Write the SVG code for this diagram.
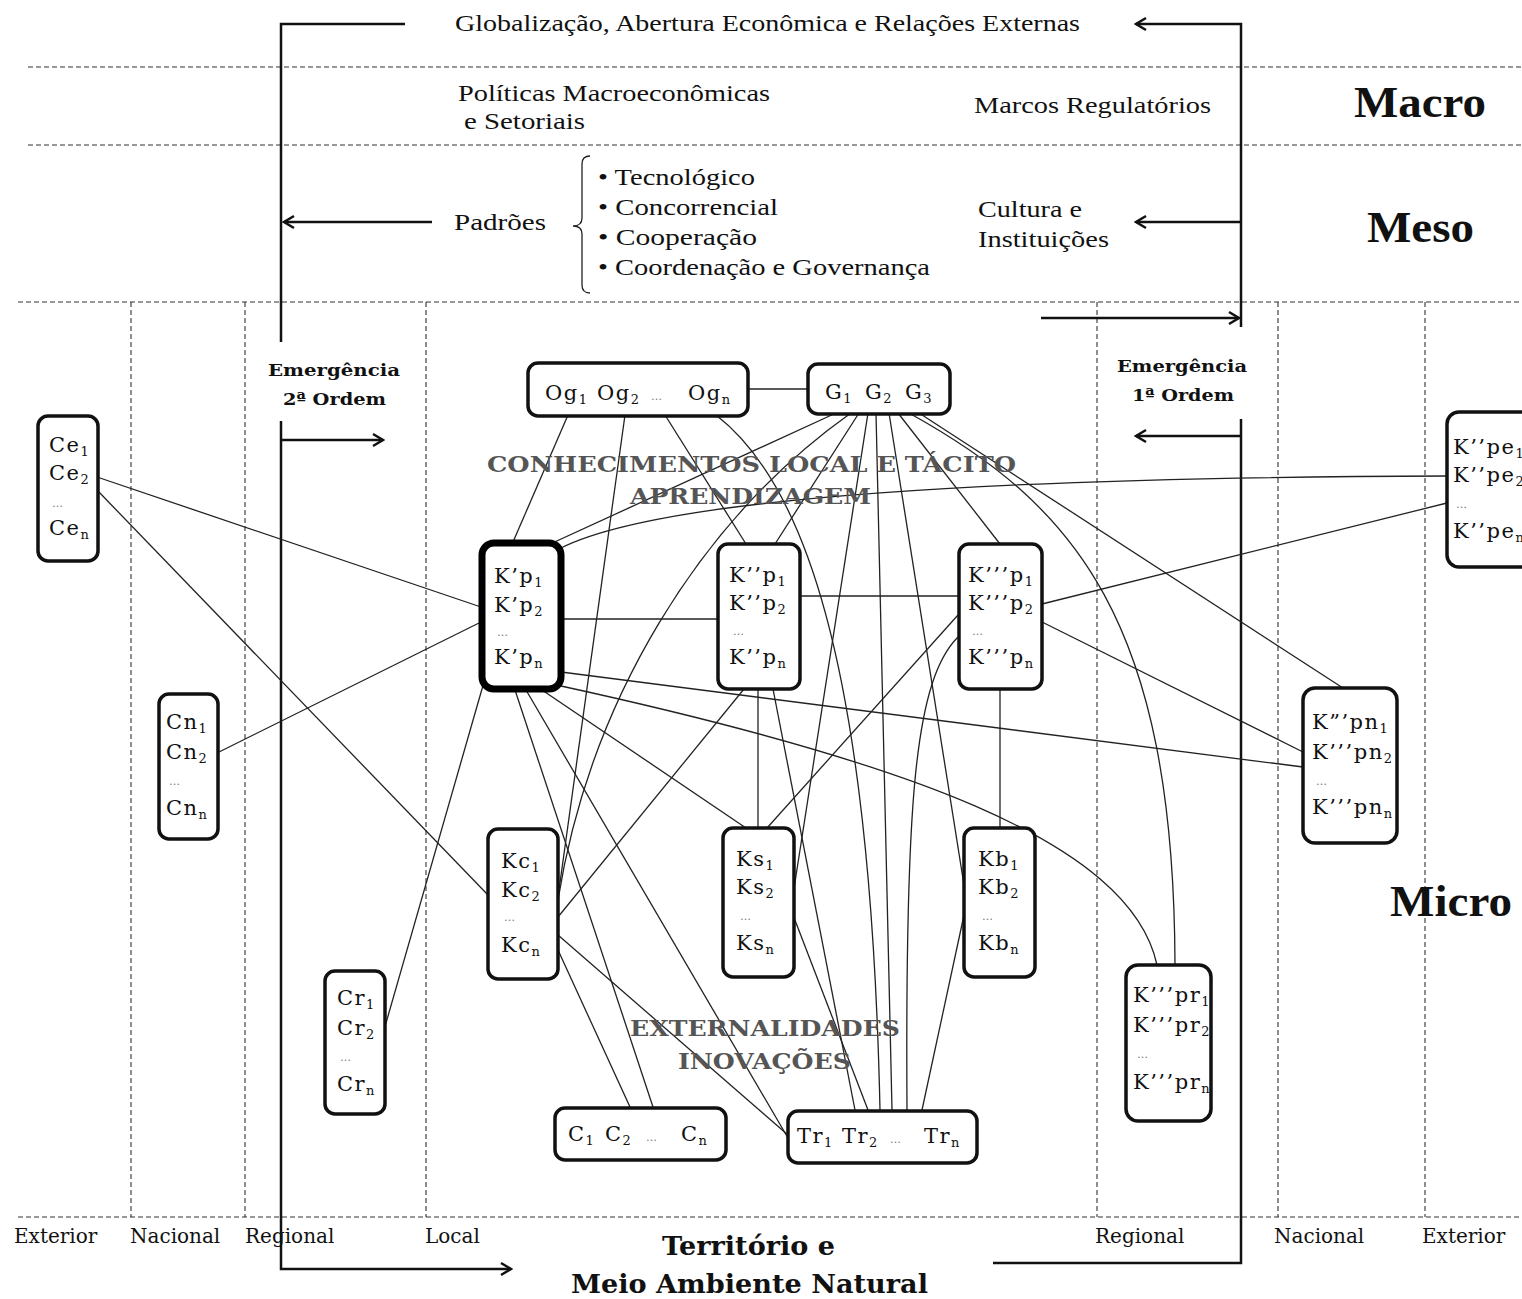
<svg xmlns="http://www.w3.org/2000/svg" width="1522" height="1299" viewBox="0 0 1522 1299">
<style>
.bg{fill:#fff}
.dash{stroke:#333;stroke-width:1.1;stroke-dasharray:5 3;fill:none}
.thick{stroke:#111;stroke-width:2.5;fill:none}
.conn path{stroke:#222;stroke-width:1.3;fill:none}
.box{fill:#fff;stroke:#111;stroke-width:3.5}
.boxk{fill:#fff;stroke:#000;stroke-width:7}
.nt{font-family:"DejaVu Serif",serif;font-size:21px;fill:#111;letter-spacing:1.5px}
.sub{font-size:13px;letter-spacing:0}
.dots{font-family:"DejaVu Serif",serif;font-size:11px;fill:#777}
.top{font-family:"Liberation Serif",serif;font-size:23px;fill:#111}
.lvl{font-family:"Liberation Serif",serif;font-size:44px;font-weight:bold;fill:#111}
.emg{font-family:"DejaVu Serif",serif;font-size:17px;font-weight:bold;fill:#111}
.sec{font-family:"DejaVu Serif",serif;font-size:22px;font-weight:bold;fill:#555}
.ter{font-family:"DejaVu Serif",serif;font-size:26px;font-weight:bold;fill:#111}
.bl{font-family:"DejaVu Serif",serif;font-size:20px;fill:#111}
</style>
<defs>
<marker id="ah" markerWidth="14" markerHeight="16" refX="12" refY="8" orient="auto" markerUnits="userSpaceOnUse"><path d="M2,2 L12,8 L2,14" fill="none" stroke="#111" stroke-width="2.5"/></marker>
</defs>
<rect class="bg" x="0" y="0" width="1522" height="1299"/>

<g id="grid">
<path class="dash" d="M28,67 H1522 M28,145 H1522 M18,302 H1522 M18,1217 H1522"/>
<path class="dash" d="M131,302 V1217 M245,302 V1217 M426,302 V1217 M1097,302 V1217 M1278,302 V1217 M1425,302 V1217"/>
</g>

<g id="frame">
<path class="thick" d="M405,24 H281 V342"/>
<path class="thick" d="M432,222 H284" marker-end="url(#ah)"/>
<path class="thick" d="M281,421 V1269 H511" marker-end="url(#ah)"/>
<path class="thick" d="M281,440 H383" marker-end="url(#ah)"/>
<path class="thick" d="M1241,327 V24 H1136" marker-end="url(#ah)"/>
<path class="thick" d="M1241,222 H1136" marker-end="url(#ah)"/>
<path class="thick" d="M1041,318 H1239" marker-end="url(#ah)"/>
<path class="thick" d="M1241,419 V1263 H993"/>
<path class="thick" d="M1241,436 H1136" marker-end="url(#ah)"/>
<path d="M590,156 Q582,156 582,164 L582,218 Q582,226 573,226 Q582,226 582,234 L582,285 Q582,293 590,293" fill="none" stroke="#222" stroke-width="1.3"/>
</g>

<g id="connectors" class="conn">
<path d="M748,389 H807"/>
<path d="M561,619 H718"/>
<path d="M800,596 H958"/>
<path d="M758,689 V828"/>
<path d="M1000,689 V828"/>
<path d="M97,477 L481,607"/>
<path d="M97,490 L488,895"/>
<path d="M217,753 L481,622"/>
<path d="M384,1030 L484,682"/>
<path d="M1447,476 Q700,478 561,548"/>
<path d="M1447,503 L1042,604"/>
<path d="M568,415 L513,542"/>
<path d="M625,415 L558,897"/>
<path d="M665,415 L746,544"/>
<path d="M716,415 C800,480 870,650 880,1110"/>
<path d="M836,413 L548,545"/>
<path d="M851,413 C700,520 590,700 558,900"/>
<path d="M859,413 L775,544"/>
<path d="M868,413 L793,895"/>
<path d="M793,915 L868,1110"/>
<path d="M876,413 L892,1110"/>
<path d="M889,413 L964,885"/>
<path d="M964,915 L922,1110"/>
<path d="M898,413 L1000,544"/>
<path d="M909,413 C1075,505 1174,620 1175,965"/>
<path d="M919,413 L1343,688"/>
<path d="M958,615 L767,828"/>
<path d="M958,637 C915,680 905,800 907,1110"/>
<path d="M1042,622 L1303,752"/>
<path d="M561,672 L1303,767"/>
<path d="M561,686 C900,760 1130,840 1157,965"/>
<path d="M542,690 L746,828"/>
<path d="M526,690 L788,1138"/>
<path d="M515,690 L653,1107"/>
<path d="M558,917 L744,689"/>
<path d="M558,935 L788,1135"/>
<path d="M558,950 L630,1107"/>
<path d="M773,689 L855,1110"/>
</g>

<g id="node-og">
<rect class="box" x="528" y="363" width="220" height="53" rx="10"/>
<text class="nt" x="545" y="400">Og<tspan class="sub" dy="4">1</tspan></text>
<text class="nt" x="597" y="400">Og<tspan class="sub" dy="4">2</tspan></text>
<text class="dots" x="651" y="400">…</text>
<text class="nt" x="688" y="400">Og<tspan class="sub" dy="4">n</tspan></text>
</g>
<g id="node-g">
<rect class="box" x="808" y="364" width="142" height="50" rx="10"/>
<text class="nt" x="825" y="399">G<tspan class="sub" dy="4">1</tspan></text>
<text class="nt" x="865" y="399">G<tspan class="sub" dy="4">2</tspan></text>
<text class="nt" x="905" y="399">G<tspan class="sub" dy="4">3</tspan></text>
</g>
<g id="node-ce">
<rect class="box" x="38" y="416" width="60" height="145" rx="10"/>
<text class="nt" x="49" y="452">Ce<tspan class="sub" dy="4">1</tspan></text>
<text class="nt" x="49" y="480">Ce<tspan class="sub" dy="4">2</tspan></text>
<text class="dots" x="52" y="507">…</text>
<text class="nt" x="49" y="535">Ce<tspan class="sub" dy="4">n</tspan></text>
</g>
<g id="node-cn">
<rect class="box" x="159" y="694" width="59" height="145" rx="10"/>
<text class="nt" x="166" y="729">Cn<tspan class="sub" dy="4">1</tspan></text>
<text class="nt" x="166" y="759">Cn<tspan class="sub" dy="4">2</tspan></text>
<text class="dots" x="169" y="785">…</text>
<text class="nt" x="166" y="815">Cn<tspan class="sub" dy="4">n</tspan></text>
</g>
<g id="node-cr">
<rect class="box" x="325" y="971" width="60" height="143" rx="10"/>
<text class="nt" x="337" y="1005">Cr<tspan class="sub" dy="4">1</tspan></text>
<text class="nt" x="337" y="1035">Cr<tspan class="sub" dy="4">2</tspan></text>
<text class="dots" x="340" y="1061">…</text>
<text class="nt" x="337" y="1091">Cr<tspan class="sub" dy="4">n</tspan></text>
</g>
<g id="node-kp1">
<rect class="boxk" x="482" y="543" width="79" height="146" rx="12"/>
<text class="nt" x="494" y="583">K’p<tspan class="sub" dy="4">1</tspan></text>
<text class="nt" x="494" y="612">K’p<tspan class="sub" dy="4">2</tspan></text>
<text class="dots" x="497" y="636">…</text>
<text class="nt" x="494" y="664">K’p<tspan class="sub" dy="4">n</tspan></text>
</g>
<g id="node-kp2">
<rect class="box" x="718" y="544" width="82" height="145" rx="10"/>
<text class="nt" x="729" y="582">K’’p<tspan class="sub" dy="4">1</tspan></text>
<text class="nt" x="729" y="610">K’’p<tspan class="sub" dy="4">2</tspan></text>
<text class="dots" x="733" y="635">…</text>
<text class="nt" x="729" y="664">K’’p<tspan class="sub" dy="4">n</tspan></text>
</g>
<g id="node-kp3">
<rect class="box" x="959" y="544" width="83" height="145" rx="10"/>
<text class="nt" x="968" y="582">K’’’p<tspan class="sub" dy="4">1</tspan></text>
<text class="nt" x="968" y="610">K’’’p<tspan class="sub" dy="4">2</tspan></text>
<text class="dots" x="972" y="635">…</text>
<text class="nt" x="968" y="664">K’’’p<tspan class="sub" dy="4">n</tspan></text>
</g>
<g id="node-kpe">
<rect class="box" x="1447" y="412" width="95" height="155" rx="12"/>
<text class="nt" x="1453" y="454">K’’pe<tspan class="sub" dy="4">1</tspan></text>
<text class="nt" x="1453" y="482">K’’pe<tspan class="sub" dy="4">2</tspan></text>
<text class="dots" x="1456" y="508">…</text>
<text class="nt" x="1453" y="538">K’’pe<tspan class="sub" dy="4">n</tspan></text>
</g>
<g id="node-kpn">
<rect class="box" x="1303" y="688" width="94" height="155" rx="12"/>
<text class="nt" x="1312" y="729">K”’pn<tspan class="sub" dy="4">1</tspan></text>
<text class="nt" x="1312" y="759">K’’’pn<tspan class="sub" dy="4">2</tspan></text>
<text class="dots" x="1316" y="785">…</text>
<text class="nt" x="1312" y="814">K’’’pn<tspan class="sub" dy="4">n</tspan></text>
</g>
<g id="node-kc">
<rect class="box" x="488" y="829" width="70" height="150" rx="10"/>
<text class="nt" x="501" y="868">Kc<tspan class="sub" dy="4">1</tspan></text>
<text class="nt" x="501" y="897">Kc<tspan class="sub" dy="4">2</tspan></text>
<text class="dots" x="504" y="921">…</text>
<text class="nt" x="501" y="952">Kc<tspan class="sub" dy="4">n</tspan></text>
</g>
<g id="node-ks">
<rect class="box" x="723" y="828" width="71" height="149" rx="10"/>
<text class="nt" x="736" y="866">Ks<tspan class="sub" dy="4">1</tspan></text>
<text class="nt" x="736" y="894">Ks<tspan class="sub" dy="4">2</tspan></text>
<text class="dots" x="740" y="920">…</text>
<text class="nt" x="736" y="950">Ks<tspan class="sub" dy="4">n</tspan></text>
</g>
<g id="node-kb">
<rect class="box" x="964" y="828" width="71" height="149" rx="10"/>
<text class="nt" x="978" y="866">Kb<tspan class="sub" dy="4">1</tspan></text>
<text class="nt" x="978" y="894">Kb<tspan class="sub" dy="4">2</tspan></text>
<text class="dots" x="982" y="920">…</text>
<text class="nt" x="978" y="950">Kb<tspan class="sub" dy="4">n</tspan></text>
</g>
<g id="node-kpr">
<rect class="box" x="1126" y="965" width="85" height="156" rx="12"/>
<text class="nt" x="1133" y="1002">K’’’pr<tspan class="sub" dy="4">1</tspan></text>
<text class="nt" x="1133" y="1032">K’’’pr<tspan class="sub" dy="4">2</tspan></text>
<text class="dots" x="1137" y="1058">…</text>
<text class="nt" x="1133" y="1089">K’’’pr<tspan class="sub" dy="4">n</tspan></text>
</g>
<g id="node-c">
<rect class="box" x="555" y="1108" width="171" height="52" rx="10"/>
<text class="nt" x="568" y="1141">C<tspan class="sub" dy="4">1</tspan></text>
<text class="nt" x="605" y="1141">C<tspan class="sub" dy="4">2</tspan></text>
<text class="dots" x="646" y="1141">…</text>
<text class="nt" x="681" y="1141">C<tspan class="sub" dy="4">n</tspan></text>
</g>
<g id="node-tr">
<rect class="box" x="788" y="1111" width="189" height="52" rx="10"/>
<text class="nt" x="797" y="1143">Tr<tspan class="sub" dy="4">1</tspan></text>
<text class="nt" x="842" y="1143">Tr<tspan class="sub" dy="4">2</tspan></text>
<text class="dots" x="890" y="1143">…</text>
<text class="nt" x="924" y="1143">Tr<tspan class="sub" dy="4">n</tspan></text>
</g>

<g id="labels">
<text class="top" x="455" y="31" textLength="625" lengthAdjust="spacingAndGlyphs">Globalização, Abertura Econômica e Relações Externas</text>
<text class="top" x="458" y="101" textLength="312" lengthAdjust="spacingAndGlyphs">Políticas Macroeconômicas</text>
<text class="top" x="464" y="129" textLength="121" lengthAdjust="spacingAndGlyphs">e Setoriais</text>
<text class="top" x="974" y="113" textLength="237" lengthAdjust="spacingAndGlyphs">Marcos Regulatórios</text>
<text class="top" x="454" y="230" textLength="92" lengthAdjust="spacingAndGlyphs">Padrões</text>
<text class="top" x="598" y="185" textLength="157" lengthAdjust="spacingAndGlyphs">• Tecnológico</text>
<text class="top" x="598" y="215" textLength="180" lengthAdjust="spacingAndGlyphs">• Concorrencial</text>
<text class="top" x="598" y="245" textLength="159" lengthAdjust="spacingAndGlyphs">• Cooperação</text>
<text class="top" x="598" y="275" textLength="332" lengthAdjust="spacingAndGlyphs">• Coordenação e Governança</text>
<text class="top" x="978" y="217" textLength="104" lengthAdjust="spacingAndGlyphs">Cultura e</text>
<text class="top" x="978" y="247" textLength="131" lengthAdjust="spacingAndGlyphs">Instituições</text>
<text class="lvl" x="1354" y="117" textLength="132" lengthAdjust="spacingAndGlyphs">Macro</text>
<text class="lvl" x="1367" y="242" textLength="107" lengthAdjust="spacingAndGlyphs">Meso</text>
<text class="lvl" x="1390" y="916" textLength="122" lengthAdjust="spacingAndGlyphs">Micro</text>
<text class="emg" x="268" y="376" textLength="132" lengthAdjust="spacingAndGlyphs">Emergência</text>
<text class="emg" x="283" y="405" textLength="103" lengthAdjust="spacingAndGlyphs">2ª Ordem</text>
<text class="emg" x="1117" y="372" textLength="130" lengthAdjust="spacingAndGlyphs">Emergência</text>
<text class="emg" x="1132" y="401" textLength="102" lengthAdjust="spacingAndGlyphs">1ª Ordem</text>
<text class="sec" x="487" y="472" textLength="529" lengthAdjust="spacingAndGlyphs">CONHECIMENTOS LOCAL E TÁCITO</text>
<text class="sec" x="630" y="504" textLength="241" lengthAdjust="spacingAndGlyphs">APRENDIZAGEM</text>
<text class="sec" x="630" y="1036" textLength="270" lengthAdjust="spacingAndGlyphs">EXTERNALIDADES</text>
<text class="sec" x="678" y="1069" textLength="173" lengthAdjust="spacingAndGlyphs">INOVAÇÕES</text>
<text class="ter" x="662" y="1255" textLength="173" lengthAdjust="spacingAndGlyphs">Território e</text>
<text class="ter" x="571" y="1293" textLength="357" lengthAdjust="spacingAndGlyphs">Meio Ambiente Natural</text>
<text class="bl" x="14" y="1243">Exterior</text>
<text class="bl" x="130" y="1243">Nacional</text>
<text class="bl" x="245" y="1243">Regional</text>
<text class="bl" x="425" y="1243">Local</text>
<text class="bl" x="1095" y="1243">Regional</text>
<text class="bl" x="1274" y="1243">Nacional</text>
<text class="bl" x="1422" y="1243">Exterior</text>
</g>
</svg>
